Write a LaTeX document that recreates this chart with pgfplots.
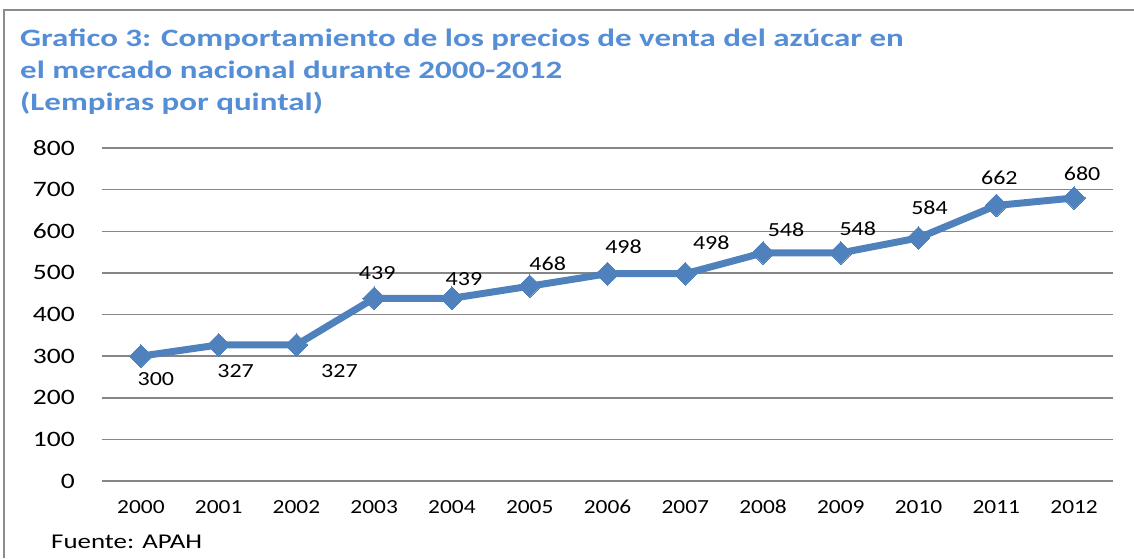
\documentclass[border=0pt]{standalone}
\usepackage{fontspec}
\setmainfont{Carlito}
\newfontfamily\lblfont{Carlito}[FakeStretch=1.2]
\newfontfamily\xfont{Carlito}[FakeStretch=1.17]
\newfontfamily\yfont{Carlito}[FakeStretch=1.25]
\newfontfamily\srcfont{Carlito}[FakeStretch=1.28]
\newfontfamily\ttlfont{Carlito}[FakeStretch=1.32]
\usepackage{pgfplots}
\usepackage{pgfplotstable}
\pgfplotsset{compat=1.18}
\definecolor{linec}{RGB}{79,129,189}
\definecolor{titlec}{RGB}{85,142,213}
\definecolor{gridc}{RGB}{134,134,134}
\definecolor{framec}{RGB}{140,140,140}
\pgfplotstableread{
x y lab dx dy
0 300 300 15 -23
1 327 327 17 -26
2 327 327 43 -26
3 439 439 3 25
4 439 439 12 19
5 468 468 18 22
6 498 498 16 27
7 498 498 26 31
8 548 548 23 23
9 548 548 17 24
10 584 584 11 30
11 662 662 3 28
12 680 680 8 24
}\datatable
\begin{document}
\begin{tikzpicture}[x=1pt,y=1pt]
\path[use as bounding box] (0,0) rectangle (1134,558);
\draw[framec, line width=1.5pt] (4,0) -- (4,548) -- (1134,548);
\node[anchor=base west, inner sep=0pt, text=titlec, font=\ttlfont\fontsize{25}{30}\selectfont\bfseries] at (20,511) {Grafico 3: Comportamiento de los precios de venta del azúcar en};
\node[anchor=base west, inner sep=0pt, text=titlec, font=\ttlfont\fontsize{25}{30}\selectfont\bfseries] at (20,479) {el mercado nacional durante 2000-2012};
\node[anchor=base west, inner sep=0pt, text=titlec, font=\ttlfont\fontsize{25}{30}\selectfont\bfseries] at (20,447) {(Lempiras por quintal)};
\node[anchor=base west, inner sep=0pt, font=\srcfont\fontsize{21}{24}\selectfont] at (51,10) {Fuente: APAH};
\begin{axis}[
  at={(102pt,77pt)}, anchor=south west, scale only axis,
  width=1011pt, height=333pt,
  xmin=-0.5, xmax=12.5, ymin=0, ymax=800,
  axis line style={draw=none},
  major tick length=0pt,
  ymajorgrids, grid style={gridc, line width=1.5pt},
  xtick={0,...,12},
  xticklabels={2000,2001,2002,2003,2004,2005,2006,2007,2008,2009,2010,2011,2012},
  ytick={0,100,...,800},
  /pgf/number format/assume math mode=true,
  yticklabel style={font=\yfont\fontsize{22}{24}\selectfont, anchor=east, inner sep=0pt, xshift=-27pt},
  xticklabel style={font=\xfont\fontsize{20}{24}\selectfont, anchor=center, inner sep=0pt, yshift=-26pt},
  clip=false,
]
\addplot[linec, line width=7pt, line join=round,
  mark=square*, mark size=8pt, mark options={solid, rotate=45, line width=0pt, fill=linec},
  nodes near coords, point meta=explicit symbolic,
  visualization depends on={\thisrow{dx} \as \dx},
  visualization depends on={\thisrow{dy} \as \dy},
  every node near coord/.append style={anchor=center, xshift=\dx pt, yshift=\dy pt, text=black, inner sep=0pt, font=\lblfont\fontsize{20}{24}\selectfont},
] table[x=x, y=y, meta=lab] {\datatable};
\end{axis}
\end{tikzpicture}
\end{document}
